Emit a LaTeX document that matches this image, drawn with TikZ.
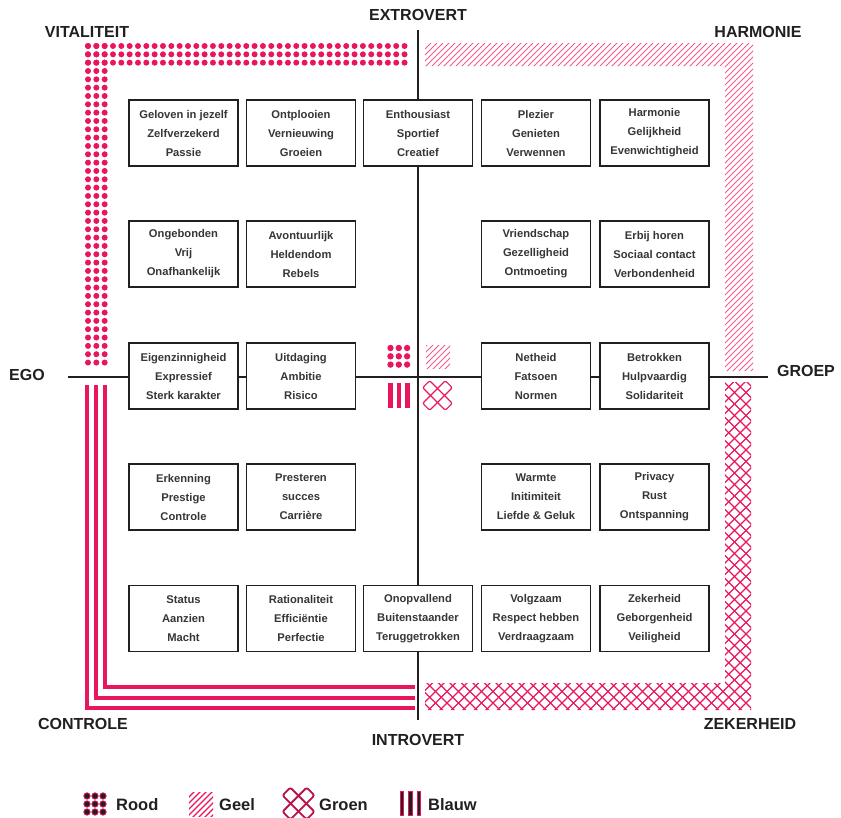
\documentclass[tikz,border=0pt]{standalone}
\usepackage{fontspec}
\setmainfont{Liberation Sans}
\definecolor{pk}{RGB}{232,22,92}
\definecolor{pkl}{RGB}{240,90,140}
\definecolor{dk}{RGB}{35,31,32}
\begin{document}
\begin{tikzpicture}[x=1pt,y=-1pt,
  cell/.style={draw=dk,line width=1.3pt,fill=white,minimum width=109pt,minimum height=66pt,
    align=center,font=\fontsize{11.2}{19}\selectfont\bfseries,text=dk!90,inner sep=0pt},
  axislabel/.style={font=\fontsize{16}{16}\selectfont\bfseries,text=dk,inner sep=0pt},
  leglabel/.style={font=\fontsize{16.5}{16}\selectfont\bfseries,text=dk,inner sep=0pt,anchor=base west},
  axis/.style={draw=dk,line width=1.3pt},
  blueline/.style={draw=pk,line width=3.2pt}]
\useasboundingbox (0,0) rectangle (841,817);

% ---------- bands ----------
% red dots
\foreach \i in {0,...,38}{\foreach \j in {0,1,2}{
  \fill[pk] (88+8.33*\i,46+8.33*\j) circle (3);
  \fill[pk] (88+8.33*\j,46+8.33*\i) circle (3);}}
% yellow hatch
\begin{scope}
  \clip (425,43) rectangle (753,66) (725,43) rectangle (753,371);
  \foreach \a in {-900,-894,...,850}{\draw[pkl,line width=0.75pt] (\a,900) -- (\a+900,0);}
\end{scope}
% green crosshatch
\begin{scope}
  \clip (425,683) rectangle (751,710) (725,382) rectangle (751,710);
  \foreach \a in {-900,-888.5,...,850}{
    \draw[pk,line width=1.2pt] (\a,900) -- (\a+900,0);
    \draw[pk,line width=1.2pt] (\a,0) -- (\a+900,900);}
\end{scope}
% blue lines
\coordinate (b1s) at (87,385); \coordinate (b1c) at (87,708); \coordinate (b1e) at (415,708);
\coordinate (b2s) at (96,385); \coordinate (b2c) at (96,698); \coordinate (b2e) at (415,698);
\coordinate (b3s) at (105,385); \coordinate (b3c) at (105,687); \coordinate (b3e) at (415,687);
\draw[blueline] (b1s) -- (b1c) -- (b1e);
\draw[blueline] (b2s) -- (b2c) -- (b2e);
\draw[blueline] (b3s) -- (b3c) -- (b3e);

% ---------- axes ----------
\coordinate (vt) at (418,30); \coordinate (vb) at (418,720);
\coordinate (hl) at (68,377); \coordinate (hr) at (768,377);
\draw[axis] (vt) -- (vb);
\draw[axis] (hl) -- (hr);

% ---------- center icons ----------
\foreach \i in {0,1,2}{\foreach \j in {0,1,2}{\fill[pk] (390.5+8.3*\i,348+8.3*\j) circle (3.2);}}
\begin{scope}
  \clip (426,345) rectangle (450,368);
  \foreach \a in {-30,-24,...,480}{\draw[pkl,line width=0.75pt] (\a,400) -- (\a+60,340);}
\end{scope}
\foreach \x in {388,396.5,405}{\fill[pk] (\x,383) rectangle (\x+4.5,408);}
\begin{scope}[shift={(437.5,395.5)}]
  \draw[pk,line width=1.2pt,rounded corners=2pt,rotate=45] (-16,-5) rectangle (16,5);
  \draw[pk,line width=1.2pt,rounded corners=2pt,rotate=-45] (-16,-5) rectangle (16,5);
\end{scope}

% ---------- boxes ----------
\node[cell] (r1c1) at (183.5,133) {Geloven in jezelf\\Zelfverzekerd\\Passie};
\node[cell] (r1c2) at (301,133) {Ontplooien\\Vernieuwing\\Groeien};
\node[cell] (r1c3) at (418,133) {Enthousiast\\Sportief\\Creatief};
\node[cell] (r1c4) at (536,133) {Plezier\\Genieten\\Verwennen};
\node[cell] (r1c5) at (654.5,133) {Harmonie\\Gelijkheid\\Evenwichtigheid};

\node[cell] (r2c1) at (183.5,254) {Ongebonden\\Vrij\\Onafhankelijk};
\node[cell] (r2c2) at (301,254) {Avontuurlijk\\Heldendom\\Rebels};
\node[cell] (r2c4) at (536,254) {Vriendschap\\Gezelligheid\\Ontmoeting};
\node[cell] (r2c5) at (654.5,254) {Erbij horen\\Sociaal contact\\Verbondenheid};

\node[cell] (r3c1) at (183.5,376) {Eigenzinnigheid\\Expressief\\Sterk karakter};
\node[cell] (r3c2) at (301,376) {Uitdaging\\Ambitie\\Risico};
\node[cell] (r3c4) at (536,376) {Netheid\\Fatsoen\\Normen};
\node[cell] (r3c5) at (654.5,376) {Betrokken\\Hulpvaardig\\Solidariteit};

\node[cell] (r4c1) at (183.5,497) {Erkenning\\Prestige\\Controle};
\node[cell] (r4c2) at (301,497) {Presteren\\succes\\Carrière};
\node[cell] (r4c4) at (536,497) {Warmte\\Initimiteit\\Liefde \& Geluk};
\node[cell] (r4c5) at (654.5,497) {Privacy\\Rust\\Ontspanning};

\node[cell] (r5c1) at (183.5,618.5) {Status\\Aanzien\\Macht};
\node[cell] (r5c2) at (301,618.5) {Rationaliteit\\Efficiëntie\\Perfectie};
\node[cell] (r5c3) at (418,618.5) {Onopvallend\\Buitenstaander\\Teruggetrokken};
\node[cell] (r5c4) at (536,618.5) {Volgzaam\\Respect hebben\\Verdraagzaam};
\node[cell] (r5c5) at (654.5,618.5) {Zekerheid\\Geborgenheid\\Veiligheid};

% ---------- axis labels ----------
\node[axislabel] (extro) at (418,15) {EXTROVERT};
\node[axislabel] (intro) at (418,740) {INTROVERT};
\node[axislabel] (ego) at (27,375) {EGO};
\node[axislabel] (groep) at (806,371) {GROEP};
\node[axislabel] (vital) at (87,32) {VITALITEIT};
\node[axislabel] (harm) at (758,32) {HARMONIE};
\node[axislabel] (contr) at (83,724) {CONTROLE};
\node[axislabel] (zek) at (750,724) {ZEKERHEID};

% ---------- legend ----------
\foreach \i in {0,1,2}{\foreach \j in {0,1,2}{
  \filldraw[fill=dk,draw=pk,line width=0.8pt] (87+8*\i,796+8*\j) circle (3.2);}}
\node[leglabel] (lrood) at (116,810) {Rood};
\begin{scope}
  \clip (189,792) rectangle (213,816);
  \foreach \a in {150,156,...,230}{\draw[pk,line width=1.3pt] (\a,830) -- (\a+40,790);}
\end{scope}
\node[leglabel] (lgeel) at (219,810) {Geel};
\begin{scope}[shift={(298.5,803.5)}]
  \draw[draw=pk!80!black,line width=1.8pt,rounded corners=2pt,rotate=45] (-17,-5.5) rectangle (17,5.5);
  \draw[draw=pk!80!black,line width=1.8pt,rounded corners=2pt,rotate=-45] (-17,-5.5) rectangle (17,5.5);
\end{scope}
\node[leglabel] (lgroen) at (319,810) {Groen};
\foreach \x in {400,408.5,417}{\filldraw[fill=dk,draw=pk,line width=0.8pt] (\x,791) rectangle (\x+3.6,815);}
\node[leglabel] (lblauw) at (428,810) {Blauw};
\end{tikzpicture}
\end{document}
